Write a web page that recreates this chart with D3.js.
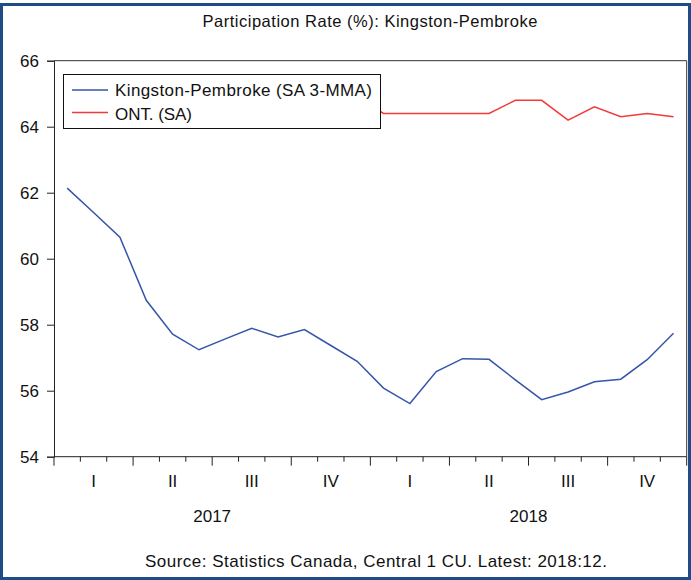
<!DOCTYPE html>
<html>
<head>
<meta charset="utf-8">
<script src="https://cdn.jsdelivr.net/npm/d3@7"></script>
<style>
  body { margin: 0; background: #fff; }
  text { font-family: "Liberation Sans", Arial, sans-serif; fill: #111; }
</style>
</head>
<body>
<script>
// monthly data, 2017:01 - 2018:12
var months = ["2017:01","2017:02","2017:03","2017:04","2017:05","2017:06","2017:07","2017:08","2017:09","2017:10","2017:11","2017:12",
              "2018:01","2018:02","2018:03","2018:04","2018:05","2018:06","2018:07","2018:08","2018:09","2018:10","2018:11","2018:12"];
var kingston = [62.14, 61.40, 60.65, 58.74, 57.71, 57.24, 57.57, 57.89, 57.63, 57.85, 57.37, 56.89,
                56.08, 55.61, 56.58, 56.97, 56.95, 56.33, 55.73, 55.96, 56.27, 56.35, 56.94, 57.74];
var ontario = [64.8, 64.7, 64.8, 64.8, 64.9, 64.8, 64.7, 64.8, 64.8, 64.7, 64.8, 64.9,
               64.4, 64.4, 64.4, 64.4, 64.4, 64.8, 64.8, 64.2, 64.6, 64.3, 64.4, 64.3];
var quarterLabels = ["I", "II", "III", "IV", "I", "II", "III", "IV"];
var years = ["2017", "2018"];
var yTicks = [54, 56, 58, 60, 62, 64, 66];
var seriesNames = ["Kingston-Pembroke (SA 3-MMA)", "ONT. (SA)"];

var W = 691, H = 580;
var pLeft = 54, pRight = 686.7, pTop = 60.7, pBottom = 456.7;

var svg = d3.select("body")
  .append("svg")
  .attr("width", W)
  .attr("height", H);

// outer frame
svg.append("rect")
  .attr("x", 1.5).attr("y", 4.5)
  .attr("width", 688).attr("height", 574)
  .attr("fill", "white")
  .attr("stroke", "#1f4c88")
  .attr("stroke-width", 3);

var x = d3.scaleBand().domain(months).range([pLeft, pRight]).padding(0);
var y = d3.scaleLinear().domain([54, 66]).range([pBottom, pTop]);
var cx = function(m) { return x(m) + x.bandwidth() / 2; };

// title
svg.append("text")
  .attr("x", 370).attr("y", 27)
  .attr("text-anchor", "middle")
  .attr("font-size", "16.5px")
  .attr("textLength", 335)
  .text("Participation Rate (%): Kingston-Pembroke");

// plot frame (top & right)
svg.append("path")
  .attr("d", "M" + pLeft + "," + pTop + "H" + pRight + "V" + pBottom)
  .attr("fill", "none")
  .attr("stroke", "#333")
  .attr("stroke-width", 1);

// y axis
var yAxis = svg.append("g")
  .attr("transform", "translate(" + pLeft + ",0)")
  .call(d3.axisLeft(y).tickValues(yTicks).tickSize(7).tickPadding(8));
yAxis.selectAll("text").attr("font-size", "17px").attr("font-family", null).attr("fill", "#111");
yAxis.selectAll("path, line").attr("stroke", "#222");

// x axis: month ticks (minor) and quarter ticks (major)
var edges = months.map(function(m) { return x(m); }).concat([pRight]);
var xg = svg.append("g");
xg.append("line")
  .attr("x1", pLeft).attr("x2", pRight)
  .attr("y1", pBottom).attr("y2", pBottom)
  .attr("stroke", "#222");
xg.selectAll("line.tick")
  .data(edges)
  .enter()
  .append("line")
  .attr("class", "tick")
  .attr("x1", function(d) { return d; })
  .attr("x2", function(d) { return d; })
  .attr("y1", pBottom)
  .attr("y2", function(d, i) { return i % 3 === 0 ? pBottom + 9 : pBottom + 5; })
  .attr("stroke", "#222");

// quarter labels
xg.selectAll("text.q")
  .data(quarterLabels)
  .enter()
  .append("text")
  .attr("class", "q")
  .attr("x", function(d, i) { return (cx(months[i * 3]) + cx(months[i * 3 + 2])) / 2; })
  .attr("y", 487)
  .attr("text-anchor", "middle")
  .attr("font-size", "17px")
  .text(function(d) { return d; });

// year labels
xg.selectAll("text.yr")
  .data(years)
  .enter()
  .append("text")
  .attr("class", "yr")
  .attr("x", function(d, i) { return (x(months[i * 12]) + x(months[i * 12 + 11]) + x.bandwidth()) / 2; })
  .attr("y", 522)
  .attr("text-anchor", "middle")
  .attr("font-size", "17px")
  .text(function(d) { return d; });

// lines
var line = d3.line()
  .x(function(d, i) { return cx(months[i]); })
  .y(function(d) { return y(d); });

svg.append("path")
  .datum(ontario)
  .attr("d", line)
  .attr("fill", "none")
  .attr("stroke", "#f23a3a")
  .attr("stroke-width", 1.5);

svg.append("path")
  .datum(kingston)
  .attr("d", line)
  .attr("fill", "none")
  .attr("stroke", "#3455a8")
  .attr("stroke-width", 1.5);

// legend
var colors = ["#3455a8", "#f23a3a"];
var lg = svg.append("g");
lg.append("rect")
  .attr("x", 63.5).attr("y", 74.5)
  .attr("width", 317).attr("height", 54)
  .attr("fill", "white")
  .attr("stroke", "#111");
lg.selectAll("line")
  .data(seriesNames)
  .enter()
  .append("line")
  .attr("x1", 72).attr("x2", 108)
  .attr("y1", function(d, i) { return 90 + i * 22.5; })
  .attr("y2", function(d, i) { return 90 + i * 22.5; })
  .attr("stroke", function(d, i) { return colors[i]; })
  .attr("stroke-width", 1.5);
var legendWidths = [257, 77];
lg.selectAll("text")
  .data(seriesNames)
  .enter()
  .append("text")
  .attr("x", 115)
  .attr("y", function(d, i) { return 96 + i * 23.5; })
  .attr("font-size", "17px")
  .attr("textLength", function(d, i) { return legendWidths[i]; })
  .text(function(d) { return d; });

// source note
svg.append("text")
  .attr("x", 376).attr("y", 567)
  .attr("text-anchor", "middle")
  .attr("font-size", "17px")
  .attr("textLength", 462)
  .text("Source: Statistics Canada, Central 1 CU. Latest: 2018:12.");
</script>
</body>
</html>
